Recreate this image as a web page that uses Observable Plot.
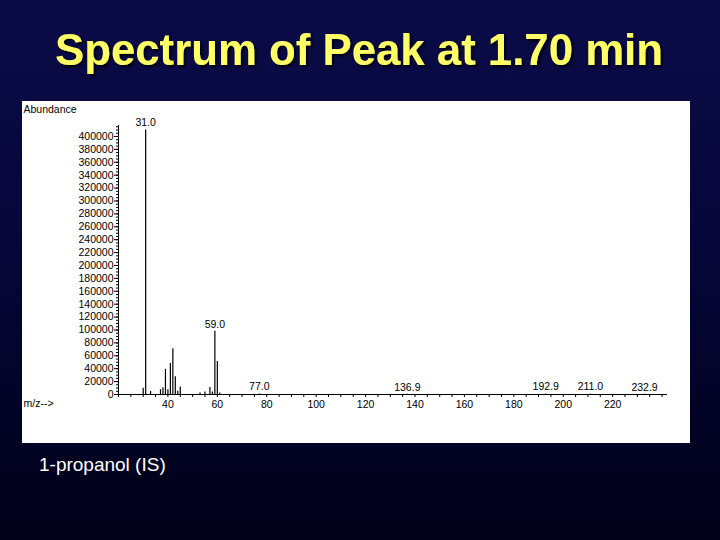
<!DOCTYPE html>
<html>
<head>
<meta charset="utf-8">
<script src="https://cdn.jsdelivr.net/npm/d3@7"></script>
<script src="https://cdn.jsdelivr.net/npm/@observablehq/plot@0.6"></script>
<style>
  html, body { margin: 0; padding: 0; width: 720px; height: 540px; overflow: hidden; }
  body { background: linear-gradient(180deg, #0b0b48 0%, #06063a 45%, #010118 100%); position: relative; font-family: "Liberation Sans", Arial, sans-serif; }
  #title { position: absolute; left: 0; top: 0; width: 720px; height: 100px; }
  #panel { position: absolute; left: 22px; top: 101px; width: 668px; height: 342px; background: white; }
  #caption { position: absolute; left: 39px; top: 454px; color: white; font-size: 19px; font-family: "Liberation Sans", Arial, sans-serif; }
</style>
</head>
<body>
<svg id="title" width="720" height="100">
  <defs>
    <filter id="shadow" x="-5%" y="-20%" width="110%" height="150%">
      <feDropShadow dx="2" dy="2" stdDeviation="0.8" flood-color="#000000" flood-opacity="0.9"/>
    </filter>
  </defs>
  <text x="359" y="65" text-anchor="middle" font-family="Liberation Sans, Arial, sans-serif" font-weight="bold" font-size="44" fill="#ffff66" textLength="608" lengthAdjust="spacingAndGlyphs" filter="url(#shadow)">Spectrum of Peak at 1.70 min</text>
</svg>
<div id="panel"></div>
<div id="caption">1-propanol (IS)</div>
<script>
// m/z values and abundances
const mzValues = [30, 31, 33, 37, 38, 39, 40, 41, 42, 43, 44, 45, 53, 55, 57, 58, 59, 60, 61, 77.0, 136.9, 192.9, 211.0, 232.9];
const abundanceValues = [9500, 410000, 4500, 7500, 10500, 39000, 7500, 48000, 71000, 27500, 5000, 11500, 2500, 4000, 11000, 4000, 98000, 51000, 2500, 700, 500, 600, 600, 500];
// peaks that carry an m/z label
const labeledMz = [31, 59, 77.0, 136.9, 192.9, 211.0, 232.9];
const labeledText = ["31.0", "59.0", "77.0", "136.9", "192.9", "211.0", "232.9"];
// axis ticks
const xTickLabels = [40, 60, 80, 100, 120, 140, 160, 180, 200, 220];
const xMinorTicks = [20, 25, 30, 35, 40, 45, 50, 55, 60, 65, 70, 75, 80, 85, 90, 95, 100, 105, 110, 115, 120, 125, 130, 135, 140, 145, 150, 155, 160, 165, 170, 175, 180, 185, 190, 195, 200, 205, 210, 215, 220, 225, 230, 235, 240];
const yTickLabels = [0, 20000, 40000, 60000, 80000, 100000, 120000, 140000, 160000, 180000, 200000, 220000, 240000, 260000, 280000, 300000, 320000, 340000, 360000, 380000, 400000];
const yMinorTicks = d3.range(0, 415001, 5000);

const peaks = mzValues.map((mz, i) => ({mz, ab: abundanceValues[i]}));
const labels = labeledMz.map((mz, i) => ({mz, ab: abundanceValues[mzValues.indexOf(mz)], text: labeledText[i]}));

const chart = Plot.plot({
  width: 668,
  height: 342,
  marginLeft: 96,
  marginRight: 23,
  marginTop: 24,
  marginBottom: 49,
  x: {domain: [20, 242.2], axis: null},
  y: {domain: [0, 417000], axis: null},
  style: {background: "white", color: "black", fontFamily: "Liberation Sans, Arial, sans-serif", fontSize: "10.5px", overflow: "visible"},
  marks: [
    Plot.ruleY([0], {stroke: "black"}),
    Plot.ruleX([20], {y1: 0, y2: 417000, stroke: "black"}),
    Plot.axisY({ticks: yMinorTicks, tickSize: 2, tickFormat: () => "", label: null}),
    Plot.axisY({ticks: yTickLabels, tickSize: 4, tickPadding: 1, tickFormat: d3.format("d"), label: null}),
    Plot.axisX({ticks: xMinorTicks, tickSize: 3, tickFormat: () => "", label: null}),
    Plot.axisX({ticks: xTickLabels, tickSize: 0, tickPadding: 6, tickFormat: d3.format("d"), label: null}),
    Plot.ruleX(peaks, {x: "mz", y1: 0, y2: "ab", stroke: "black", strokeWidth: 1.2}),
    Plot.text(labels, {x: "mz", y: "ab", text: "text", dy: -7, fill: "black"}),
    Plot.text(["Abundance"], {frameAnchor: "top-left", dx: -95, dy: -20, textAnchor: "start", fill: "black"}),
    Plot.text(["m/z-->"], {frameAnchor: "bottom-left", dx: -95, dy: 12, textAnchor: "start", fill: "black"})
  ]
});
document.getElementById("panel").appendChild(chart);
</script>
</body>
</html>
